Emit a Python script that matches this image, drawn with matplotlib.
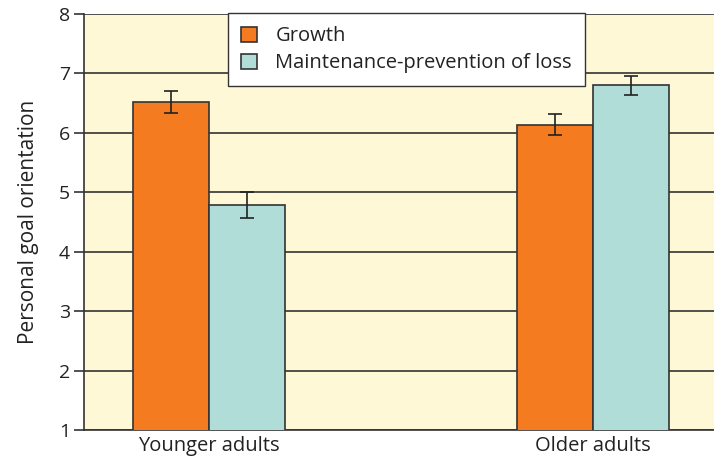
import matplotlib
matplotlib.use("Agg")
import matplotlib.pyplot as plt
import numpy as np

categories = ["Younger adults", "Older adults"]
series_names = ["Growth", "Maintenance-prevention of loss"]
growth = [6.52, 6.14]
growth_err = [0.19, 0.18]
maint = [4.78, 6.80]
maint_err = [0.22, 0.16]
yticks = [1, 2, 3, 4, 5, 6, 7, 8]

plt.rcParams['font.family'] = ['Open Sans', 'DejaVu Sans']

fig = plt.figure(figsize=(7.14, 4.61), dpi=100)
ax = fig.add_axes([84/714, 31/461, 630/714, 416/461])
ax.set_facecolor('#FFF8D6')

x = np.arange(len(categories))
w = 76/384
ax.bar(x - w/2, growth, w, bottom=0, color='#F47B20', edgecolor='#333333', linewidth=1.2,
       yerr=growth_err, error_kw=dict(ecolor='#222222', elinewidth=1.2, capsize=5, capthick=1.2),
       label=series_names[0], zorder=3)
ax.bar(x + w/2, maint, w, bottom=0, color='#B0DDD8', edgecolor='#333333', linewidth=1.2,
       yerr=maint_err, error_kw=dict(ecolor='#222222', elinewidth=1.2, capsize=5, capthick=1.2),
       label=series_names[1], zorder=3)

ax.set_ylim(1, 8)
ax.set_xlim(-125/384, 1 + 121/384)
ax.set_yticks(yticks)
ax.set_xticks(x)
ax.set_xticklabels(categories)
ax.tick_params(axis='y', length=7, width=1.2, color='#333333', labelsize=14, pad=3, labelcolor='#222222')
ax.tick_params(axis='x', length=0, labelsize=14.5, pad=4, labelcolor='#222222')
ax.yaxis.grid(True, color='#333333', linewidth=1.2, zorder=1)
ax.set_axisbelow(True)
for s in ['top', 'right']:
    ax.spines[s].set_visible(False)
for s in ['left', 'bottom']:
    ax.spines[s].set_color('#333333')
    ax.spines[s].set_linewidth(1.2)
ax.set_ylabel("Personal goal orientation", fontsize=15, labelpad=14, color='#222222')

leg = ax.legend(loc='upper left', bbox_to_anchor=((228-84)/630, 1.002), fontsize=14.5,
                frameon=True, fancybox=False, framealpha=1, edgecolor='#333333',
                borderpad=0.65, handlelength=0.8, handleheight=0.8, handletextpad=0.9,
                labelspacing=0.35, borderaxespad=0)
leg.get_frame().set_linewidth(1.0)
leg.set_zorder(5)
for t in leg.get_texts():
    t.set_color('#222222')

fig.savefig("out.png", dpi=100)
